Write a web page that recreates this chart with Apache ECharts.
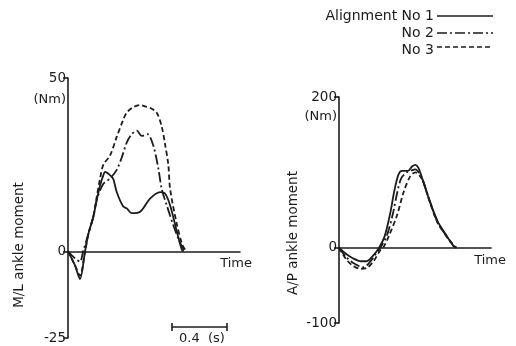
<!DOCTYPE html>
<html>
<head>
<meta charset="utf-8">
<script src="https://cdn.jsdelivr.net/npm/echarts@6/dist/echarts.min.js"></script>
<style>
  html, body { margin: 0; background: #fff; }
  #chart { width: 516px; height: 346px; }
</style>
</head>
<body>
<div id="chart"></div>
<script>
// series names (legend)
const alignNames = ['No 1', 'No 2', 'No 3'];

// M/L ankle moment (Nm) vs time (s)
const mlNo1 = [[0,0],[0.05,-4],[0.087,-8],[0.124,0],[0.148,5],[0.184,10],[0.21,15],[0.233,19],[0.257,22],[0.269,22.9],[0.305,22],[0.329,20.9],[0.354,17.1],[0.4,13],[0.427,12.4],[0.463,11],[0.524,11.4],[0.596,15.2],[0.669,17.1],[0.705,16.7],[0.742,13.3],[0.791,5.7],[0.827,0.5],[0.84,0]];
const mlNo2 = [[0,0],[0.05,-2],[0.087,-3],[0.11,0],[0.148,5],[0.184,10],[0.21,15],[0.257,19.5],[0.305,21],[0.354,23.5],[0.39,27],[0.427,31.4],[0.463,33.8],[0.5,34.8],[0.536,33.3],[0.577,33.8],[0.62,30.5],[0.657,23.8],[0.681,18],[0.72,13],[0.77,7],[0.82,2],[0.85,0]];
const mlNo3 = [[0,0],[0.05,-4],[0.087,-7],[0.12,-1],[0.148,5],[0.184,10],[0.21,16],[0.233,21],[0.257,25],[0.305,27.6],[0.354,33],[0.402,38],[0.427,40],[0.47,41.5],[0.524,42.2],[0.56,41.8],[0.596,41.4],[0.645,40],[0.681,36],[0.705,31],[0.729,25],[0.742,18],[0.79,8],[0.83,2],[0.86,0]];

// A/P ankle moment (Nm) vs time (s)
const apNo1 = [[0,0],[0.05,-8],[0.1,-14],[0.16,-18],[0.2,-18],[0.25,-10],[0.29,0],[0.33,15],[0.37,45],[0.4,75],[0.43,97],[0.456,102],[0.5,102],[0.53,108],[0.553,110],[0.575,106],[0.6,93],[0.649,66],[0.711,36],[0.771,18],[0.83,2],[0.85,0]];
const apNo2 = [[0,0],[0.05,-12],[0.1,-20],[0.177,-26],[0.22,-20],[0.26,-10],[0.3,0],[0.35,18],[0.39,45],[0.42,72],[0.45,92],[0.49,100],[0.53,103],[0.553,104],[0.58,99],[0.61,88],[0.649,66],[0.711,35],[0.771,17],[0.83,2],[0.85,0]];
const apNo3 = [[0,0],[0.05,-15],[0.1,-24],[0.153,-28],[0.2,-27],[0.25,-18],[0.3,-3],[0.32,0],[0.36,15],[0.42,43],[0.468,74],[0.516,95],[0.553,100],[0.601,91],[0.649,65],[0.711,34],[0.771,17],[0.844,0]];

// tick labels shown on each y axis
const mlTicks = [-25, 0, 50];
const apTicks = [-100, 0, 200];

const ink = '#1c1c1c';
const font = 'DejaVu Sans';
const dashTypes = ['solid', [10, 3, 2, 3], [5, 3]];

const chart = echarts.init(document.getElementById('chart'));

function yAxis(idx, min, max, ticks, nameGap) {
  return {
    gridIndex: idx, type: 'value', min: min, max: max,
    splitLine: { show: false },
    axisLine: { show: true, lineStyle: { color: ink, width: 1.6 } },
    axisTick: { show: true, length: 5, customValues: ticks, lineStyle: { color: ink, width: 1.6 } },
    axisLabel: { customValues: ticks, color: ink, fontFamily: font, fontSize: 13.5, margin: 2 },
    name: '(Nm)', nameLocation: 'end', nameGap: nameGap,
    nameTextStyle: { color: ink, fontFamily: font, fontSize: 13, align: 'right', verticalAlign: 'middle', padding: [0, 2, 0, 0] }
  };
}

function xAxis(idx, max, gap) {
  return {
    gridIndex: idx, type: 'value', min: 0, max: max,
    splitLine: { show: false },
    axisLabel: { show: false },
    axisTick: { show: false },
    axisLine: { onZero: true, lineStyle: { color: ink, width: 1.6 } },
    name: 'Time', nameLocation: 'end', nameGap: gap,
    nameTextStyle: { color: ink, fontFamily: font, fontSize: 13, align: 'right', verticalAlign: 'top', padding: [6, 0, 0, 0] }
  };
}

function lineSeries(idx, data, k) {
  return {
    type: 'line', name: alignNames[k], xAxisIndex: idx, yAxisIndex: idx,
    data: data, smooth: 0.3, showSymbol: false, silent: true,
    lineStyle: { color: ink, width: 1.8, type: dashTypes[k] }
  };
}

const legendText = ['Alignment No 1', 'No 2', 'No 3'];
const legendY = [16, 33, 50];
const graphics = [];
legendText.forEach((t, k) => {
  const ly = legendY[k] - (k === 2 ? 3 : 0);
  graphics.push({ type: 'text', x: 434, y: legendY[k], style: { text: t, font: "14px 'DejaVu Sans'", fill: ink, align: 'right', verticalAlign: 'middle' } });
  graphics.push({ type: 'line', shape: { x1: 437, y1: ly, x2: 493, y2: ly },
    style: { stroke: ink, lineWidth: 1.5, lineDash: k === 0 ? null : dashTypes[k] } });
});
graphics.push(
  { type: 'text', x: 19, y: 245, rotation: Math.PI / 2, style: { text: 'M/L ankle moment', font: "13.5px 'DejaVu Sans'", fill: ink, align: 'center', verticalAlign: 'middle' } },
  { type: 'text', x: 293, y: 233, rotation: Math.PI / 2, style: { text: 'A/P ankle moment', font: "13.5px 'DejaVu Sans'", fill: ink, align: 'center', verticalAlign: 'middle' } },
  // 0.4 s scale bar
  { type: 'line', shape: { x1: 172, y1: 327, x2: 227, y2: 327 }, style: { stroke: ink, lineWidth: 1.6 } },
  { type: 'line', shape: { x1: 172, y1: 323, x2: 172, y2: 331 }, style: { stroke: ink, lineWidth: 1.6 } },
  { type: 'line', shape: { x1: 227, y1: 323, x2: 227, y2: 331 }, style: { stroke: ink, lineWidth: 1.6 } },
  { type: 'text', x: 202, y: 339, style: { text: '0.4  (s)', font: "13px 'DejaVu Sans'", fill: ink, align: 'center', verticalAlign: 'middle' } }
);

chart.setOption({
  backgroundColor: '#fff',
  animation: false,
  grid: [
    { left: 68, top: 78, width: 172, height: 260 },
    { left: 339, top: 97, width: 152, height: 226 }
  ],
  xAxis: [xAxis(0, 1.25, 12), xAxis(1, 1.1, 15)],
  yAxis: [yAxis(0, -25, 50, mlTicks, -22), yAxis(1, -100, 200, apTicks, -20)],
  graphic: graphics,
  series: [
    lineSeries(0, mlNo1, 0), lineSeries(0, mlNo2, 1), lineSeries(0, mlNo3, 2),
    lineSeries(1, apNo1, 0), lineSeries(1, apNo2, 1), lineSeries(1, apNo3, 2)
  ]
});
</script>
</body>
</html>
